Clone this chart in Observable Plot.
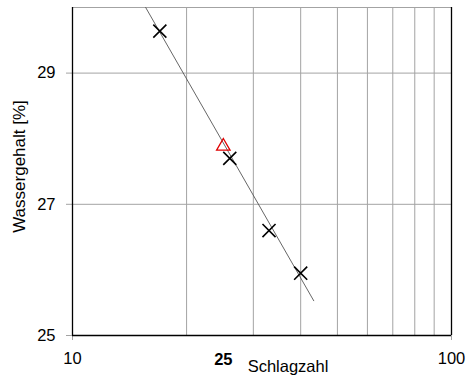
<!DOCTYPE html>
<html><head><meta charset="utf-8">
<script src="https://cdn.jsdelivr.net/npm/d3@7"></script>
<script src="https://cdn.jsdelivr.net/npm/@observablehq/plot@0.6"></script>
<style>html,body{margin:0;padding:0;background:#fff} svg{display:block}</style>
</head><body><div id="chart"></div>
<script>
// data
const blows = [17, 26, 33, 40];
const water = [29.64, 27.70, 26.60, 25.95];
const refBlows = [25];
const refWater = [27.885];
const fitBlows = [15.6, 43.3];
const fitWater = [30.0, 25.53];
const xTicks = [10, 100];
const xGrid = [20, 30, 40, 50, 60, 70, 80, 90];
const yTicks = [25, 27, 29];
const yGrid = [27, 29];
const xDomain = [10, 100];
const yDomain = [25, 30];

const points = blows.map((b, i) => ({b, w: water[i]}));
const refPt = refBlows.map((b, i) => ({b, w: refWater[i]}));
const fit = fitBlows.map((b, i) => ({b, w: fitWater[i]}));

const font = "'Liberation Sans', Arial, Helvetica, sans-serif";
const grid = "#a3a3a3";

const chart = Plot.plot({
  width: 468, height: 376,
  marginLeft: 72, marginRight: 17, marginTop: 7, marginBottom: 41,
  style: {fontFamily: font, fontSize: "16px", background: "#fff", color: "#000"},
  x: {type: "log", domain: xDomain},
  y: {domain: yDomain},
  marks: [
    Plot.ruleX(xGrid, {stroke: grid, strokeWidth: 1}),
    Plot.ruleY(yGrid, {stroke: grid, strokeWidth: 1}),
    Plot.ruleY([yDomain[1]], {stroke: grid, strokeWidth: 1}),
    Plot.axisY({ticks: yTicks, tickSize: 6, tickPadding: 11, stroke: grid, fill: "#000", fontSize: 16.5, label: null, tickFormat: d => String(d)}),
    Plot.axisX({ticks: xTicks, tickSize: 5, tickPadding: 12, stroke: grid, fill: "#000", fontSize: 16.5, label: null, tickFormat: d => String(d)}),
    Plot.ruleX(xDomain, {stroke: "#000", strokeWidth: 1.3}),
    Plot.ruleY([yDomain[0]], {stroke: "#000", strokeWidth: 1.3}),
    Plot.line(fit, {x: "b", y: "w", stroke: "#555", strokeWidth: 0.9}),
    Plot.dot(points, {x: "b", y: "w", symbol: "times", r: 6, stroke: "#000", strokeWidth: 1.6}),
    Plot.dot(refPt, {x: "b", y: "w", symbol: "triangle", r: 5, stroke: "#e00000", fill: "none", strokeWidth: 1.3}),
    Plot.text(refBlows, {x: d => d, frameAnchor: "bottom", lineAnchor: "top", dy: 18, text: d => String(d), fontWeight: "bold", fontSize: 16.5, fill: "#000"}),
    Plot.text(["Schlagzahl"], {frameAnchor: "bottom", dx: 26, dy: 31, lineAnchor: "middle", textAnchor: "middle", text: d => d, fontSize: 16.5, fill: "#000"}),
    Plot.text(["Wassergehalt [%]"], {frameAnchor: "left", dx: -53, dy: -5, rotate: -90, lineAnchor: "middle", textAnchor: "middle", text: d => d, fontSize: 17, fill: "#000"})
  ]
});
document.getElementById("chart").appendChild(chart);
</script>
</body></html>
